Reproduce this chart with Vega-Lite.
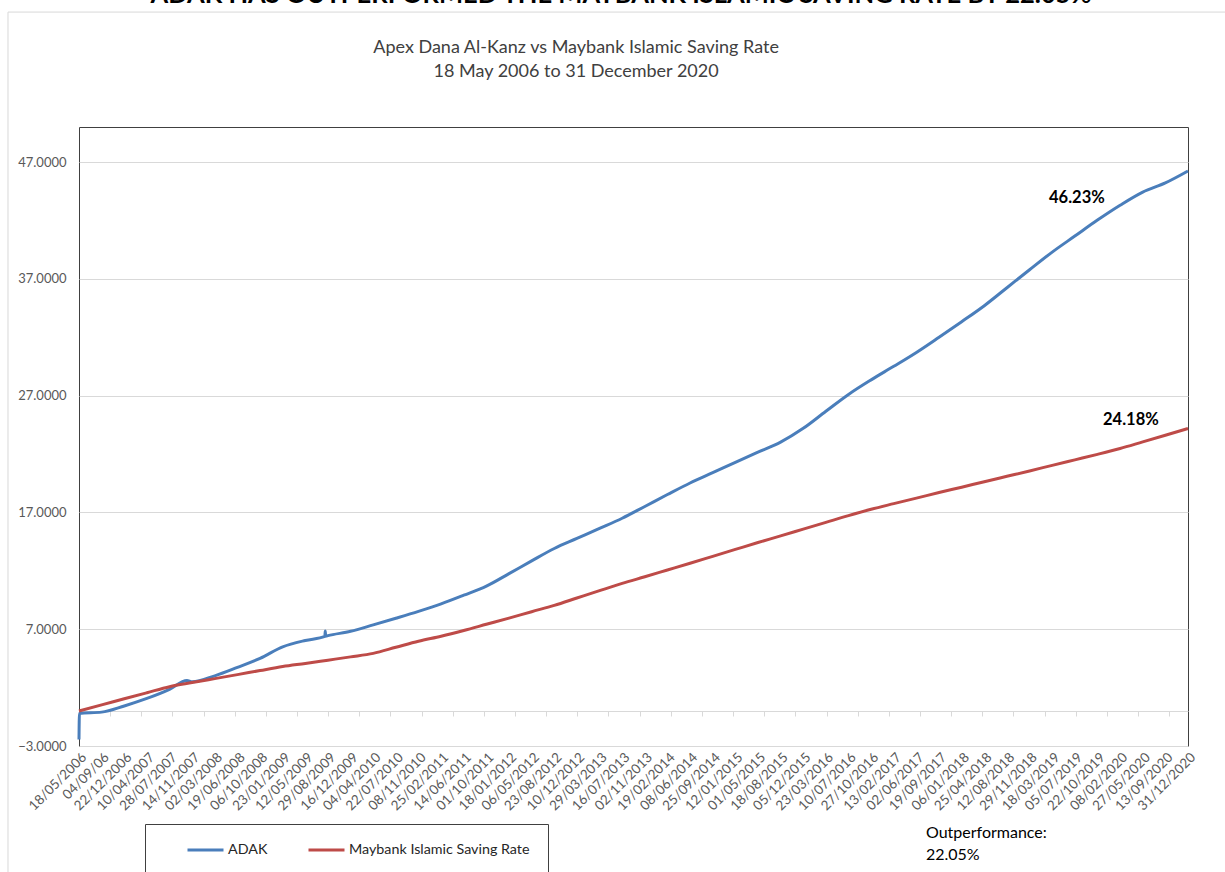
{
  "$schema": "https://vega.github.io/schema/vega-lite/v6.json",
  "width": 1109,
  "height": 619,
  "autosize": {"type": "none"},
  "padding": {"left": 79, "top": 127, "right": 37, "bottom": 126},
  "background": "white",
  "config": {"view": {"stroke": "#404040", "strokeWidth": 1}, "font": "Lato"},
  "datasets": {
    "series": [
      {"date": "2006-05-18", "series": "ADAK", "value": -2.45},
      {"date": "2006-05-20", "series": "ADAK", "value": -0.2},
      {"date": "2006-09-04", "series": "ADAK", "value": -0.1},
      {"date": "2006-12-22", "series": "ADAK", "value": 0.43},
      {"date": "2007-04-10", "series": "ADAK", "value": 1.07},
      {"date": "2007-07-28", "series": "ADAK", "value": 1.85},
      {"date": "2007-10-20", "series": "ADAK", "value": 2.6},
      {"date": "2007-11-14", "series": "ADAK", "value": 2.5},
      {"date": "2008-03-02", "series": "ADAK", "value": 3.01},
      {"date": "2008-06-19", "series": "ADAK", "value": 3.73},
      {"date": "2008-10-06", "series": "ADAK", "value": 4.5},
      {"date": "2009-01-23", "series": "ADAK", "value": 5.49},
      {"date": "2009-05-12", "series": "ADAK", "value": 6.04},
      {"date": "2009-08-14", "series": "ADAK", "value": 6.38},
      {"date": "2009-08-16", "series": "ADAK", "value": 6.85},
      {"date": "2009-08-18", "series": "ADAK", "value": 6.4},
      {"date": "2009-08-29", "series": "ADAK", "value": 6.45},
      {"date": "2009-12-16", "series": "ADAK", "value": 6.82},
      {"date": "2010-04-04", "series": "ADAK", "value": 7.37},
      {"date": "2010-07-22", "series": "ADAK", "value": 7.94},
      {"date": "2010-11-08", "series": "ADAK", "value": 8.53},
      {"date": "2011-02-25", "series": "ADAK", "value": 9.17},
      {"date": "2011-06-14", "series": "ADAK", "value": 9.91},
      {"date": "2011-10-01", "series": "ADAK", "value": 10.69},
      {"date": "2012-01-18", "series": "ADAK", "value": 11.76},
      {"date": "2012-05-06", "series": "ADAK", "value": 12.85},
      {"date": "2012-08-23", "series": "ADAK", "value": 13.91},
      {"date": "2012-12-10", "series": "ADAK", "value": 14.77},
      {"date": "2013-03-29", "series": "ADAK", "value": 15.63},
      {"date": "2013-07-16", "series": "ADAK", "value": 16.5},
      {"date": "2013-11-02", "series": "ADAK", "value": 17.51},
      {"date": "2014-02-19", "series": "ADAK", "value": 18.53},
      {"date": "2014-06-08", "series": "ADAK", "value": 19.52},
      {"date": "2014-09-25", "series": "ADAK", "value": 20.4},
      {"date": "2015-01-12", "series": "ADAK", "value": 21.29},
      {"date": "2015-05-01", "series": "ADAK", "value": 22.16},
      {"date": "2015-08-18", "series": "ADAK", "value": 23.02},
      {"date": "2015-12-05", "series": "ADAK", "value": 24.2},
      {"date": "2016-03-23", "series": "ADAK", "value": 25.66},
      {"date": "2016-07-10", "series": "ADAK", "value": 27.1},
      {"date": "2016-10-27", "series": "ADAK", "value": 28.35},
      {"date": "2017-02-13", "series": "ADAK", "value": 29.51},
      {"date": "2017-06-02", "series": "ADAK", "value": 30.7},
      {"date": "2017-09-19", "series": "ADAK", "value": 32.0},
      {"date": "2018-01-06", "series": "ADAK", "value": 33.33},
      {"date": "2018-04-25", "series": "ADAK", "value": 34.7},
      {"date": "2018-08-12", "series": "ADAK", "value": 36.24},
      {"date": "2018-11-29", "series": "ADAK", "value": 37.78},
      {"date": "2019-03-18", "series": "ADAK", "value": 39.29},
      {"date": "2019-07-05", "series": "ADAK", "value": 40.66},
      {"date": "2019-10-22", "series": "ADAK", "value": 42.03},
      {"date": "2020-02-08", "series": "ADAK", "value": 43.3},
      {"date": "2020-05-27", "series": "ADAK", "value": 44.43},
      {"date": "2020-09-13", "series": "ADAK", "value": 45.21},
      {"date": "2020-12-31", "series": "ADAK", "value": 46.23},
      {"date": "2006-05-18", "series": "Maybank Islamic Saving Rate", "value": 0},
      {"date": "2006-09-04", "series": "Maybank Islamic Saving Rate", "value": 0.52},
      {"date": "2006-12-22", "series": "Maybank Islamic Saving Rate", "value": 1.04},
      {"date": "2007-04-10", "series": "Maybank Islamic Saving Rate", "value": 1.56},
      {"date": "2007-07-28", "series": "Maybank Islamic Saving Rate", "value": 2.08},
      {"date": "2007-11-14", "series": "Maybank Islamic Saving Rate", "value": 2.43},
      {"date": "2008-03-02", "series": "Maybank Islamic Saving Rate", "value": 2.77},
      {"date": "2008-06-19", "series": "Maybank Islamic Saving Rate", "value": 3.11},
      {"date": "2008-10-06", "series": "Maybank Islamic Saving Rate", "value": 3.46},
      {"date": "2009-01-23", "series": "Maybank Islamic Saving Rate", "value": 3.8},
      {"date": "2009-05-12", "series": "Maybank Islamic Saving Rate", "value": 4.07},
      {"date": "2009-08-29", "series": "Maybank Islamic Saving Rate", "value": 4.35},
      {"date": "2009-12-16", "series": "Maybank Islamic Saving Rate", "value": 4.63},
      {"date": "2010-04-04", "series": "Maybank Islamic Saving Rate", "value": 4.93},
      {"date": "2010-07-22", "series": "Maybank Islamic Saving Rate", "value": 5.45},
      {"date": "2010-11-08", "series": "Maybank Islamic Saving Rate", "value": 5.97},
      {"date": "2011-02-25", "series": "Maybank Islamic Saving Rate", "value": 6.4},
      {"date": "2011-06-14", "series": "Maybank Islamic Saving Rate", "value": 6.89},
      {"date": "2011-10-01", "series": "Maybank Islamic Saving Rate", "value": 7.42},
      {"date": "2012-01-18", "series": "Maybank Islamic Saving Rate", "value": 7.95},
      {"date": "2012-05-06", "series": "Maybank Islamic Saving Rate", "value": 8.5},
      {"date": "2012-08-23", "series": "Maybank Islamic Saving Rate", "value": 9.04},
      {"date": "2012-12-10", "series": "Maybank Islamic Saving Rate", "value": 9.67},
      {"date": "2013-03-29", "series": "Maybank Islamic Saving Rate", "value": 10.3},
      {"date": "2013-07-16", "series": "Maybank Islamic Saving Rate", "value": 10.92},
      {"date": "2013-11-02", "series": "Maybank Islamic Saving Rate", "value": 11.49},
      {"date": "2014-02-19", "series": "Maybank Islamic Saving Rate", "value": 12.07},
      {"date": "2014-06-08", "series": "Maybank Islamic Saving Rate", "value": 12.65},
      {"date": "2014-09-25", "series": "Maybank Islamic Saving Rate", "value": 13.24},
      {"date": "2015-01-12", "series": "Maybank Islamic Saving Rate", "value": 13.83},
      {"date": "2015-05-01", "series": "Maybank Islamic Saving Rate", "value": 14.42},
      {"date": "2015-08-18", "series": "Maybank Islamic Saving Rate", "value": 14.99},
      {"date": "2015-12-05", "series": "Maybank Islamic Saving Rate", "value": 15.57},
      {"date": "2016-03-23", "series": "Maybank Islamic Saving Rate", "value": 16.15},
      {"date": "2016-07-10", "series": "Maybank Islamic Saving Rate", "value": 16.73},
      {"date": "2016-10-27", "series": "Maybank Islamic Saving Rate", "value": 17.27},
      {"date": "2017-02-13", "series": "Maybank Islamic Saving Rate", "value": 17.75},
      {"date": "2017-06-02", "series": "Maybank Islamic Saving Rate", "value": 18.22},
      {"date": "2017-09-19", "series": "Maybank Islamic Saving Rate", "value": 18.7},
      {"date": "2018-01-06", "series": "Maybank Islamic Saving Rate", "value": 19.16},
      {"date": "2018-04-25", "series": "Maybank Islamic Saving Rate", "value": 19.63},
      {"date": "2018-08-12", "series": "Maybank Islamic Saving Rate", "value": 20.09},
      {"date": "2018-11-29", "series": "Maybank Islamic Saving Rate", "value": 20.55},
      {"date": "2019-03-18", "series": "Maybank Islamic Saving Rate", "value": 21.03},
      {"date": "2019-07-05", "series": "Maybank Islamic Saving Rate", "value": 21.5},
      {"date": "2019-10-22", "series": "Maybank Islamic Saving Rate", "value": 21.97},
      {"date": "2020-02-08", "series": "Maybank Islamic Saving Rate", "value": 22.47},
      {"date": "2020-05-27", "series": "Maybank Islamic Saving Rate", "value": 23.04},
      {"date": "2020-09-13", "series": "Maybank Islamic Saving Rate", "value": 23.61},
      {"date": "2020-12-31", "series": "Maybank Islamic Saving Rate", "value": 24.18}
    ],
    "pct": [
      {"date": "2019-07-15", "value": 43.92, "label": "46.23%"},
      {"date": "2020-03-31", "value": 24.91, "label": "24.18%"}
    ],
    "note": [
      {"date": "2017-07-18", "value": -10.45, "label": "Outperformance:"},
      {"date": "2017-07-18", "value": -12.34, "label": "22.05%"}
    ],
    "head": [
      {"date": "2013-07-10", "value": 60.62, "label": "ADAK HAS OUTPERFORMED THE MAYBANK ISLAMIC SAVING RATE BY 22.05%"}
    ],
    "subtitle": [
      {"date": "2012-12-06", "value": 56.76, "label": "Apex Dana Al-Kanz vs Maybank Islamic Saving Rate"},
      {"date": "2012-12-06", "value": 54.71, "label": "18 May 2006 to 31 December 2020"}
    ]
  },
  "resolve": {"axis": {"x": "independent"}},
  "layer": [
    {
      "data": {"values": [{}]},
      "mark": {"type": "rect", "fill": "transparent", "stroke": "#d9d9d9", "strokeWidth": 1},
      "encoding": {
        "x": {"datum": 1118361600000, "type": "temporal", "scale": {"type": "utc", "domain": [1147910400000, 1609372800000], "nice": false}, "axis": null},
        "x2": {"datum": 1654041600000},
        "y": {"datum": 59.84, "type": "quantitative", "scale": {"domain": [-3, 50], "nice": false, "zero": false}},
        "y2": {"datum": -25}
      }
    },
    {
      "data": {"name": "series"},
      "mark": {"type": "line", "strokeWidth": 3, "interpolate": "monotone"},
      "encoding": {
        "x": {
          "field": "date", "type": "temporal", "title": null,
          "scale": {"type": "utc", "domain": [1147910400000, 1609372800000], "nice": false},
          "axis": {
            "orient": "bottom",
            "values": [1147910400000, 1157328000000, 1166745600000, 1176163200000, 1185580800000, 1194998400000, 1204416000000, 1213833600000, 1223251200000, 1232668800000, 1242086400000, 1251504000000, 1260921600000, 1270339200000, 1279756800000, 1289174400000, 1298592000000, 1308009600000, 1317427200000, 1326844800000, 1336262400000, 1345680000000, 1355097600000, 1364515200000, 1373932800000, 1383350400000, 1392768000000, 1402185600000, 1411603200000, 1421020800000, 1430438400000, 1439856000000, 1449273600000, 1458691200000, 1468108800000, 1477526400000, 1486944000000, 1496361600000, 1505779200000, 1515196800000, 1524614400000, 1534032000000, 1543449600000, 1552867200000, 1562284800000, 1571702400000, 1581120000000, 1590537600000, 1599955200000, 1609372800000],
            "labelExpr": "utcFormat(datum.value, '%d/%m/%Y') == '04/09/2006' ? '04/09/06' : utcFormat(datum.value, '%d/%m/%Y')",
            "labelAngle": -45,
            "labelAlign": "right",
            "labelBaseline": "top",
            "labelFont": "Lato",
            "labelFontSize": 13.5,
            "labelColor": "#595959",
            "labelPadding": 4,
            "labelOverlap": false,
            "labelFlush": false,
            "labelBound": false,
            "ticks": false,
            "domain": false,
            "grid": false,
            "title": null
          }
        },
        "y": {
          "field": "value", "type": "quantitative", "title": null,
          "scale": {"domain": [-3, 50], "nice": false, "zero": false},
          "axis": {
            "values": [-3, 7, 17, 27, 37, 47],
            "format": ".4f",
            "grid": true,
            "gridColor": "#d9d9d9",
            "gridWidth": 1,
            "ticks": false,
            "domain": false,
            "labelFont": "Lato",
            "labelFontSize": 13,
            "labelColor": "#595959",
            "labelPadding": 13,
            "title": null
          }
        },
        "color": {
          "field": "series", "type": "nominal",
          "scale": {"domain": ["ADAK", "Maybank Islamic Saving Rate"], "range": ["#4A7EBB", "#BE4B48"]},
          "legend": {
            "orient": "none",
            "legendX": 66,
            "legendY": 697,
            "direction": "horizontal",
            "title": "\u00a0",
            "titleOrient": "left",
            "titleFontSize": 10,
            "titlePadding": 23,
            "padding": 18,
            "strokeColor": "#404040",
            "fillColor": "white",
            "symbolType": "stroke",
            "symbolSize": 1296,
            "symbolStrokeWidth": 3,
            "labelFont": "Lato",
            "labelFontSize": 14.3,
            "labelColor": "#262626",
            "labelOffset": 3,
            "labelLimit": 400,
            "columnPadding": 39,
            "clipHeight": 16
          }
        }
      }
    },
    {
      "data": {"name": "pct"},
      "mark": {"type": "text", "font": "Lato", "fontWeight": "bold", "fontSize": 16.5, "color": "#000000", "align": "center", "baseline": "middle"},
      "encoding": {
        "x": {
          "field": "date", "type": "temporal", "title": null,
          "scale": {"type": "utc", "domain": [1147910400000, 1609372800000], "nice": false},
          "axis": {
            "orient": "bottom",
            "offset": -35,
            "values": [1147910400000, 1160870400000, 1173830400000, 1186790400000, 1199750400000, 1212710400000, 1225670400000, 1238630400000, 1251590400000, 1264550400000, 1277510400000, 1290470400000, 1303430400000, 1316390400000, 1329350400000, 1342310400000, 1355270400000, 1368230400000, 1381190400000, 1394150400000, 1407110400000, 1420070400000, 1433030400000, 1445990400000, 1458950400000, 1471910400000, 1484870400000, 1497830400000, 1510790400000, 1523750400000, 1536710400000, 1549670400000, 1562630400000, 1575590400000, 1588550400000, 1601510400000],
            "labels": false,
            "ticks": true,
            "tickSize": 5,
            "tickColor": "#d9d9d9",
            "domain": true,
            "domainColor": "#d9d9d9",
            "grid": false,
            "title": null
          }
        },
        "y": {"field": "value", "type": "quantitative", "title": null},
        "text": {"field": "label"}
      }
    },
    {
      "data": {"name": "note"},
      "mark": {"type": "text", "font": "Lato", "fontSize": 16, "color": "#000000", "align": "left", "baseline": "middle"},
      "encoding": {
        "x": {"field": "date", "type": "temporal", "title": null, "axis": null},
        "y": {"field": "value", "type": "quantitative", "title": null},
        "text": {"field": "label"}
      }
    },
    {
      "data": {"name": "subtitle"},
      "mark": {"type": "text", "font": "Lato", "fontSize": 18, "color": "#404040", "align": "center", "baseline": "middle"},
      "encoding": {
        "x": {"field": "date", "type": "temporal", "title": null, "axis": null},
        "y": {"field": "value", "type": "quantitative", "title": null},
        "text": {"field": "label"}
      }
    },
    {
      "data": {"name": "head"},
      "mark": {"type": "text", "font": "Lato", "fontWeight": "bold", "fontSize": 25.5, "color": "#000000", "align": "center", "baseline": "alphabetic"},
      "encoding": {
        "x": {"field": "date", "type": "temporal", "title": null, "axis": null},
        "y": {"field": "value", "type": "quantitative", "title": null},
        "text": {"field": "label"}
      }
    }
  ]
}
